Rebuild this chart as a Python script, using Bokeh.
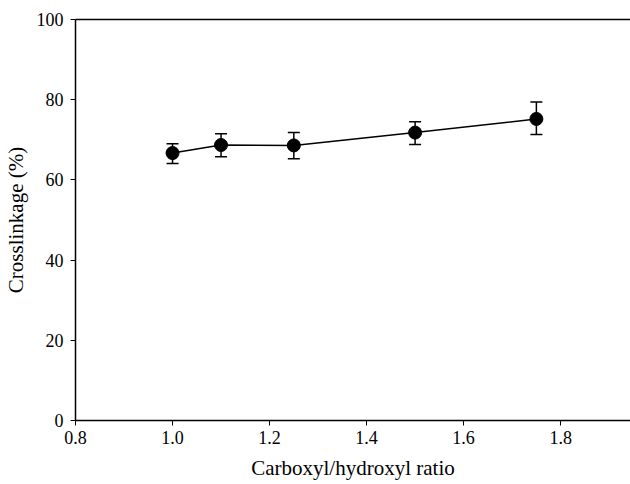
from bokeh.plotting import figure
from bokeh.models import ColumnDataSource, Whisker, LinearAxis, FixedTicker, Range1d, NumeralTickFormatter
from bokeh.embed import file_html
from bokeh.resources import INLINE

ratio = [1.0, 1.1, 1.25, 1.5, 1.75]
crosslinkage = [66.7, 68.7, 68.6, 71.8, 75.2]
err_upper = [69.0, 71.5, 71.8, 74.5, 79.4]
err_lower = [64.1, 65.8, 65.3, 68.8, 71.3]
x_ticks = [0.8, 1.0, 1.2, 1.4, 1.6, 1.8]
y_ticks = [0, 20, 40, 60, 80, 100]

FONT = "Liberation Serif"

src = ColumnDataSource(dict(x=ratio, y=crosslinkage, up=err_upper, lo=err_lower))

p = figure(width=630, height=482, output_backend="svg", toolbar_location=None,
           x_range=Range1d(0.8, 1.944), y_range=Range1d(0, 100),
           min_border_left=75, min_border_right=0, min_border_top=19, min_border_bottom=60)
p.outline_line_color = None
p.xgrid.visible = False
p.ygrid.visible = False

for ax in (p.xaxis[0], p.yaxis[0]):
    ax.minor_tick_line_color = None
    ax.major_tick_in = 0
    ax.major_tick_out = 5
    ax.axis_line_color = "black"
    ax.axis_line_width = 1.5
    ax.major_tick_line_color = "black"
    ax.major_label_text_font = FONT
    ax.major_label_text_font_size = "18px"
    ax.major_label_text_color = "black"
    ax.axis_label_text_font = FONT
    ax.axis_label_text_font_size = "21px"
    ax.axis_label_text_font_style = "normal"
    ax.axis_label_text_color = "black"

p.xaxis[0].ticker = FixedTicker(ticks=x_ticks)
p.yaxis[0].ticker = FixedTicker(ticks=y_ticks)
p.xaxis[0].formatter = NumeralTickFormatter(format="0.0")
p.xaxis[0].axis_label = "Carboxyl/hydroxyl ratio"
p.yaxis[0].axis_label = "Crosslinkage (%)"
p.xaxis[0].major_label_standoff = 5
p.xaxis[0].axis_label_standoff = 9
p.yaxis[0].major_label_standoff = 7
p.yaxis[0].axis_label_standoff = 6

top = LinearAxis(ticker=FixedTicker(ticks=[]), major_label_text_font_size="0px",
                 axis_line_color="black", axis_line_width=1.5,
                 major_tick_line_color=None, minor_tick_line_color=None)
p.add_layout(top, "above")

p.line("x", "y", source=src, line_color="black", line_width=1.5)
w = Whisker(source=src, base="x", upper="up", lower="lo", line_color="black", line_width=1.5)
w.upper_head.size = 12
w.lower_head.size = 12
w.upper_head.line_color = "black"
w.lower_head.line_color = "black"
w.upper_head.line_width = 1.5
w.lower_head.line_width = 1.5
p.add_layout(w)
p.scatter("x", "y", source=src, size=13, fill_color="black", line_color="black")

open("out.html", "w").write(file_html(p, INLINE))
